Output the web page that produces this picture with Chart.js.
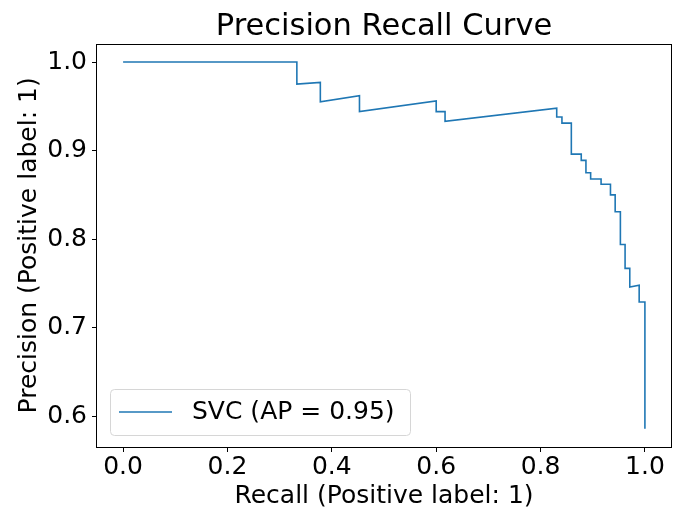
<!DOCTYPE html>
<html>
<head>
<meta charset="utf-8">
<script src="https://cdn.jsdelivr.net/npm/chart.js@4"></script>
<style>
  html, body { margin: 0; padding: 0; background: #fff; }
  #wrap { width: 678px; height: 508px; }
</style>
</head>
<body>
<div id="wrap"><canvas id="pr-chart" width="678" height="508"></canvas></div>
<script>
// step points (recall, precision)
const recall = [0.0, 0.333, 0.333, 0.378, 0.378, 0.453, 0.453, 0.600, 0.600, 0.617, 0.617,
    0.831, 0.831, 0.841, 0.841, 0.859, 0.859, 0.878, 0.878, 0.887, 0.887, 0.896, 0.896,
    0.916, 0.916, 0.934, 0.934, 0.943, 0.943, 0.953, 0.953, 0.962, 0.962, 0.971, 0.971,
    0.989, 0.989, 1.0, 1.0];
const precision = [1.0, 1.0, 0.975, 0.977, 0.955, 0.962, 0.944, 0.956, 0.944, 0.944, 0.933,
    0.948, 0.938, 0.938, 0.931, 0.931, 0.896, 0.896, 0.889, 0.889, 0.875, 0.875, 0.868,
    0.868, 0.862, 0.862, 0.850, 0.850, 0.831, 0.831, 0.794, 0.794, 0.767, 0.767, 0.746,
    0.748, 0.729, 0.729, 0.586];
const xTicks = [0.0, 0.2, 0.4, 0.6, 0.8, 1.0];
const yTicks = [0.6, 0.7, 0.8, 0.9, 1.0];
const seriesLabel = 'SVC (AP = 0.95)';
const chartTitle = 'Precision Recall Curve';

const FONT = '"DejaVu Sans", sans-serif';

// title centred over the axes, like matplotlib does it
const axesTitle = {
    id: 'axesTitle',
    afterDraw(chart) {
        const { ctx, chartArea: a } = chart;
        ctx.save();
        ctx.fillStyle = '#000';
        ctx.font = '30.5px ' + FONT;
        ctx.textAlign = 'center';
        ctx.textBaseline = 'alphabetic';
        ctx.fillText(chartTitle, (a.left + a.right) / 2, 35);
        ctx.restore();
    }
};

// black box round the plot area
const frame = {
    id: 'frame',
    afterDatasetsDraw(chart) {
        const { ctx, chartArea: a } = chart;
        ctx.save();
        ctx.strokeStyle = '#000';
        ctx.lineWidth = 1;
        ctx.strokeRect(Math.round(a.left) - 0.5, Math.round(a.top) + 0.5,
            Math.round(a.right - a.left) + 1, Math.round(a.bottom - a.top));
        ctx.restore();
    }
};

// matplotlib style legend in the lower left corner
const legendBox = {
    id: 'legendBox',
    afterDraw(chart) {
        const { ctx, chartArea: a } = chart;
        const ds = chart.data.datasets[0];
        const x = a.left + 13, bottom = a.bottom - 12, w = 300, h = 46;
        const y = bottom - h;
        ctx.save();
        ctx.beginPath();
        ctx.roundRect(x + 0.5, y + 0.5, w, h, 4);
        ctx.fillStyle = 'rgba(255,255,255,0.8)';
        ctx.fill();
        ctx.strokeStyle = '#d6d6d6';
        ctx.lineWidth = 1;
        ctx.stroke();
        const cy = y + h / 2;
        ctx.beginPath();
        ctx.moveTo(x + 9, cy);
        ctx.lineTo(x + 62, cy);
        ctx.strokeStyle = ds.borderColor;
        ctx.lineWidth = ds.borderWidth;
        ctx.stroke();
        ctx.fillStyle = '#000';
        ctx.font = '25px ' + FONT;
        ctx.textBaseline = 'middle';
        ctx.fillText(ds.label, x + 82, cy);
        ctx.restore();
    }
};

const ctx = document.getElementById('pr-chart').getContext('2d');

new Chart(ctx, {
    type: 'scatter',
    data: {
        datasets: [{
            label: seriesLabel,
            data: recall.map((r, i) => ({ x: r, y: precision[i] })),
            showLine: true,
            borderColor: '#1f77b4',
            borderWidth: 1.6,
            pointRadius: 0,
            fill: false,
            tension: 0
        }]
    },
    options: {
        responsive: false,
        animation: false,
        layout: { padding: { left: 0, right: 7, top: 43.7, bottom: 0 } },
        plugins: {
            legend: { display: false },
            tooltip: { enabled: false },
            title: { display: false }
        },
        scales: {
            x: {
                type: 'linear',
                min: -0.05,
                max: 1.05,
                afterFit: s => { s.height = 61; },
                afterBuildTicks: s => { s.ticks = xTicks.map(v => ({ value: v })); },
                ticks: {
                    color: '#000',
                    padding: 3,
                    maxRotation: 0,
                    font: { family: FONT, size: 25, lineHeight: 1 },
                    callback: v => v.toFixed(1)
                },
                grid: { drawOnChartArea: false, drawTicks: true, tickLength: 5, color: '#000', lineWidth: 1 },
                border: { display: false },
                title: {
                    display: true,
                    text: 'Recall (Positive label: 1)',
                    color: '#000',
                    font: { family: FONT, size: 25, lineHeight: 0.9 },
                    padding: 0
                }
            },
            y: {
                type: 'linear',
                min: 0.5653,
                max: 1.0207,
                afterFit: s => { s.width = 97; },
                afterBuildTicks: s => { s.ticks = yTicks.map(v => ({ value: v })); },
                ticks: {
                    color: '#000',
                    padding: 5,
                    font: { family: FONT, size: 25, lineHeight: 1 },
                    callback: v => v.toFixed(1)
                },
                grid: { drawOnChartArea: false, drawTicks: true, tickLength: 5, color: '#000', lineWidth: 1 },
                border: { display: false },
                title: {
                    display: true,
                    text: 'Precision (Positive label: 1)',
                    color: '#000',
                    font: { family: FONT, size: 25, lineHeight: 1.2 },
                    padding: { top: 14, bottom: 0 }
                }
            }
        }
    },
    plugins: [frame, legendBox, axesTitle]
});
</script>
</body>
</html>
